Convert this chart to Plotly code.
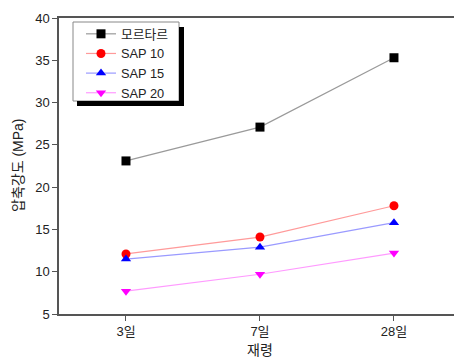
import plotly.graph_objects as go

categories = ["3일", "7일", "28일"]
mortar = [23.1, 27.1, 35.3]
sap10 = [12.1, 14.1, 17.8]
sap15 = [11.5, 12.9, 15.8]
sap20 = [7.7, 9.7, 12.2]
series_names = ["모르타르", "SAP 10", "SAP 15", "SAP 20"]
y_ticks = [5, 10, 15, 20, 25, 30, 35, 40]

FONT = "Liberation Sans, Arial, Noto Sans CJK KR, sans-serif"
L, T, R, B = 59, 18, 454, 314
PW, PH = R - L, B - T

styles = [
    dict(line="#9a9a9a", marker="#000000", symbol="square"),
    dict(line="#ff9a9a", marker="#ff0000", symbol="circle"),
    dict(line="#9a9aff", marker="#0000ff", symbol="triangle-up"),
    dict(line="#ff9aff", marker="#ff00ff", symbol="triangle-down"),
]

fig = go.Figure()
for name, vals, st in zip(series_names, [mortar, sap10, sap15, sap20], styles):
    fig.add_trace(go.Scatter(
        x=categories, y=vals, name=name, mode="lines+markers",
        line=dict(color=st["line"], width=1.2),
        marker=dict(color=st["marker"], symbol=st["symbol"], size=9,
                    line=dict(width=0)),
    ))

def px(x):
    return (x - L) / PW

def py(y):
    return (B - y) / PH

# white legend frame
fig.add_shape(type="rect", xref="paper", yref="paper",
              x0=px(73), x1=px(179), y0=py(101), y1=py(22),
              fillcolor="#ffffff", line=dict(color="#888888", width=1), layer="above")
# drop shadow drawn as thick lines along right and bottom edges
fig.add_shape(type="line", xref="paper", yref="paper",
              x0=px(181.5), x1=px(181.5), y0=py(106), y1=py(27),
              line=dict(color="#000000", width=5), layer="above")
fig.add_shape(type="line", xref="paper", yref="paper",
              x0=px(77), x1=px(184), y0=py(103.5), y1=py(103.5),
              line=dict(color="#000000", width=5), layer="above")

fig.add_annotation(text="재령", xref="paper", yref="paper",
                   x=px(260), y=py(350), xanchor="center", yanchor="middle",
                   showarrow=False, font=dict(size=14, color="#222"))
fig.add_annotation(text="압축강도 (MPa)", xref="paper", yref="paper",
                   x=px(18), y=py(165), xanchor="center", yanchor="middle",
                   textangle=-90, showarrow=False, font=dict(size=14, color="#222"))

fig.update_layout(
    width=454, height=361,
    margin=dict(l=L, r=454 - R, t=T, b=361 - B),
    paper_bgcolor="white", plot_bgcolor="white",
    font=dict(family=FONT, size=13, color="#222"),
    showlegend=True,
    legend=dict(x=px(81), y=py(19), xanchor="left", yanchor="top",
                bgcolor="rgba(255,255,255,0)", borderwidth=0,
                font=dict(size=12.8, family=FONT, color="#222"),
                tracegroupgap=0),
    xaxis=dict(
        type="category", range=[-0.5, 2.448], automargin=False,
        showline=True, linecolor="#555", linewidth=1.5, mirror=True,
        ticks="outside", ticklen=5, tickcolor="#555", tickwidth=1.2,
        showgrid=False, zeroline=False,
        tickfont=dict(size=13),
    ),
    yaxis=dict(
        range=[5, 40], tickvals=y_ticks, automargin=False,
        showline=True, linecolor="#555", linewidth=1.5, mirror=True,
        ticks="outside", ticklen=5, tickcolor="#555", tickwidth=1.2,
        showgrid=False, zeroline=False,
        tickfont=dict(size=13),
    ),
)

fig.write_html("out.html", config={"displayModeBar": False},
               post_script="document.body.style.margin='0';")
